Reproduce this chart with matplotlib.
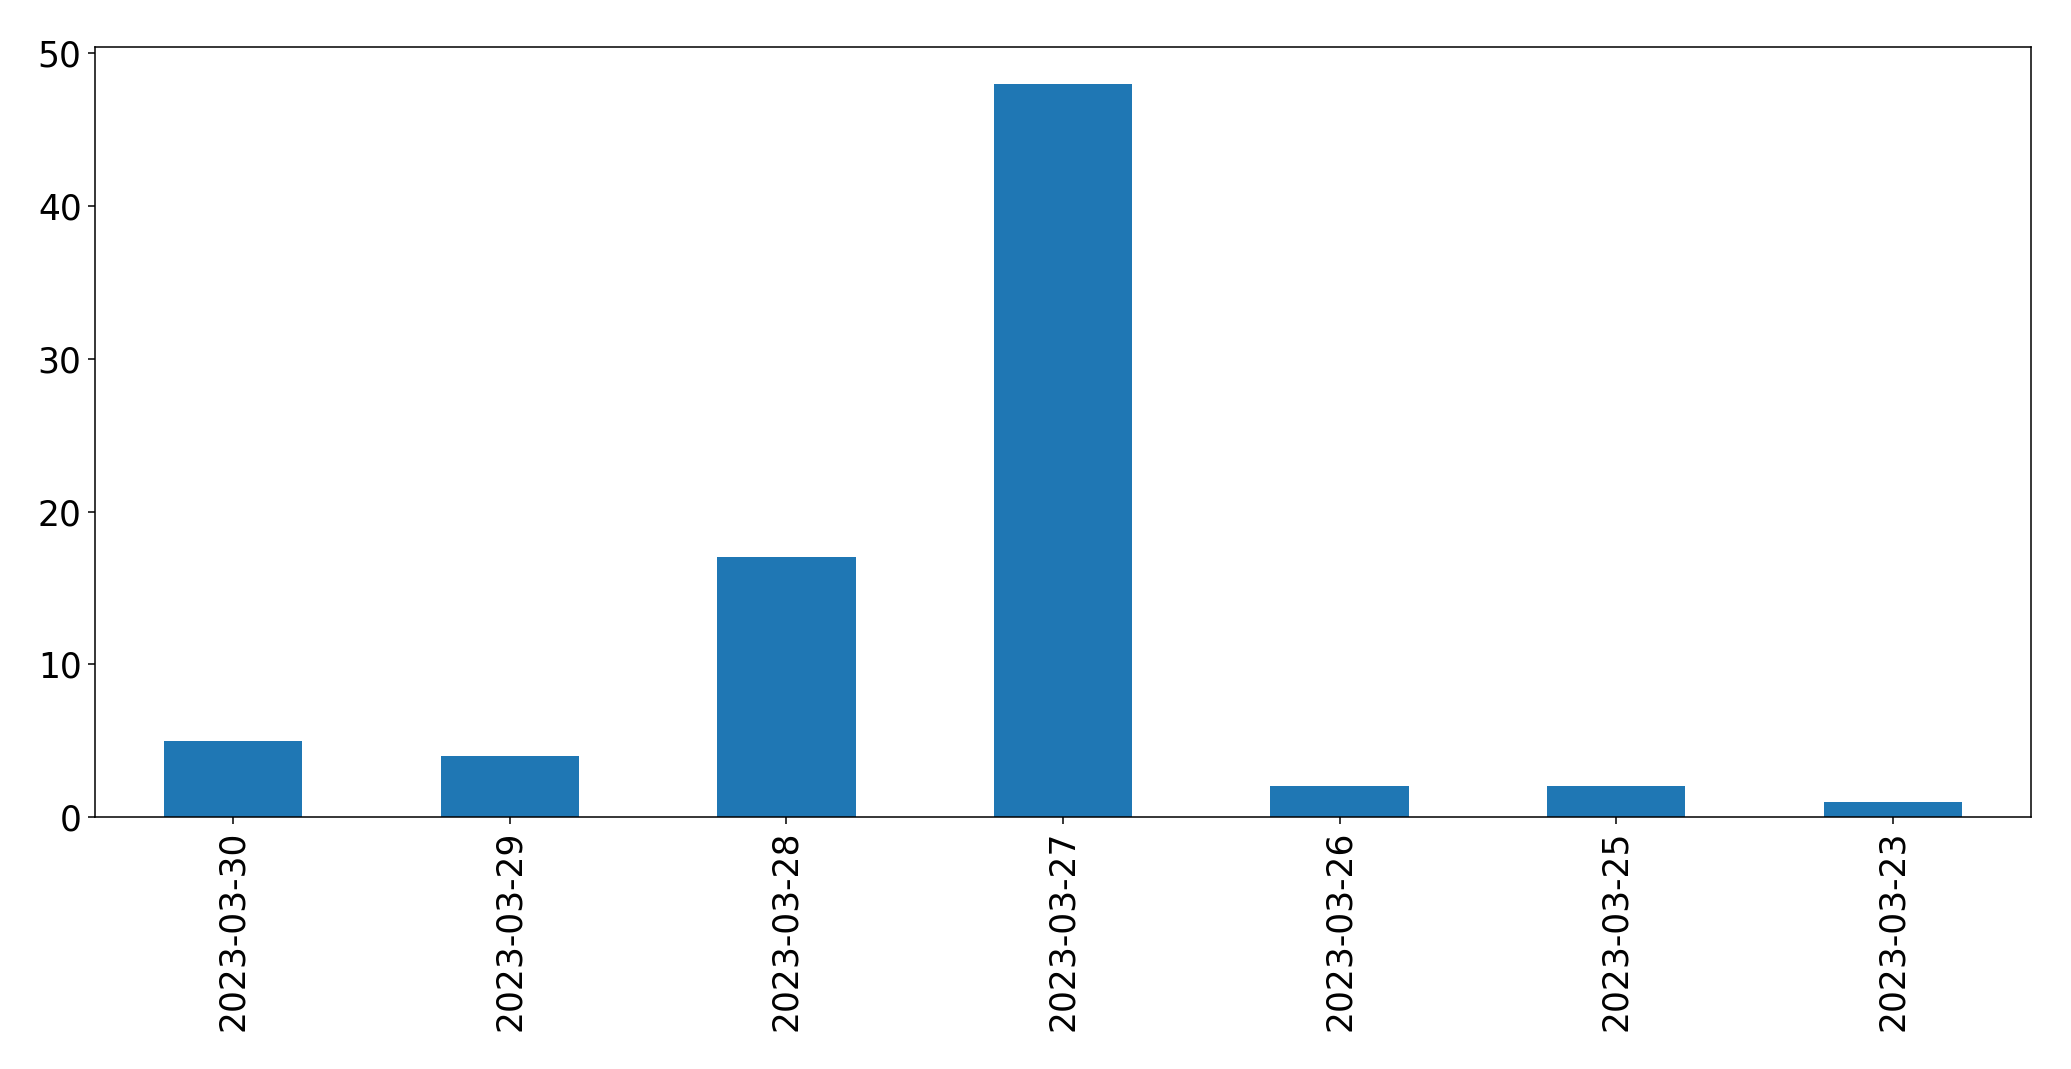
import matplotlib
matplotlib.use('Agg')
import matplotlib.pyplot as plt
import numpy as np

dates = ['2023-03-30', '2023-03-29', '2023-03-28', '2023-03-27',
         '2023-03-26', '2023-03-25', '2023-03-23']
counts = [5, 4, 17, 48, 2, 2, 1]

fig = plt.figure(figsize=(2071 / 138, 1069 / 138), dpi=138)
ax = fig.add_axes([0.0459, 0.2357, 0.9348, 0.7201])

x = np.arange(len(dates))
ax.bar(x, counts, width=0.5, color='#1f77b4')

ax.set_xlim(-0.5, len(dates) - 0.5)
ax.set_ylim(0, max(counts) * 1.05)
ax.set_xticks(x)
ax.set_xticklabels(dates, rotation=90)
ax.tick_params(labelsize=18)

fig.savefig('out.png', dpi=138)
